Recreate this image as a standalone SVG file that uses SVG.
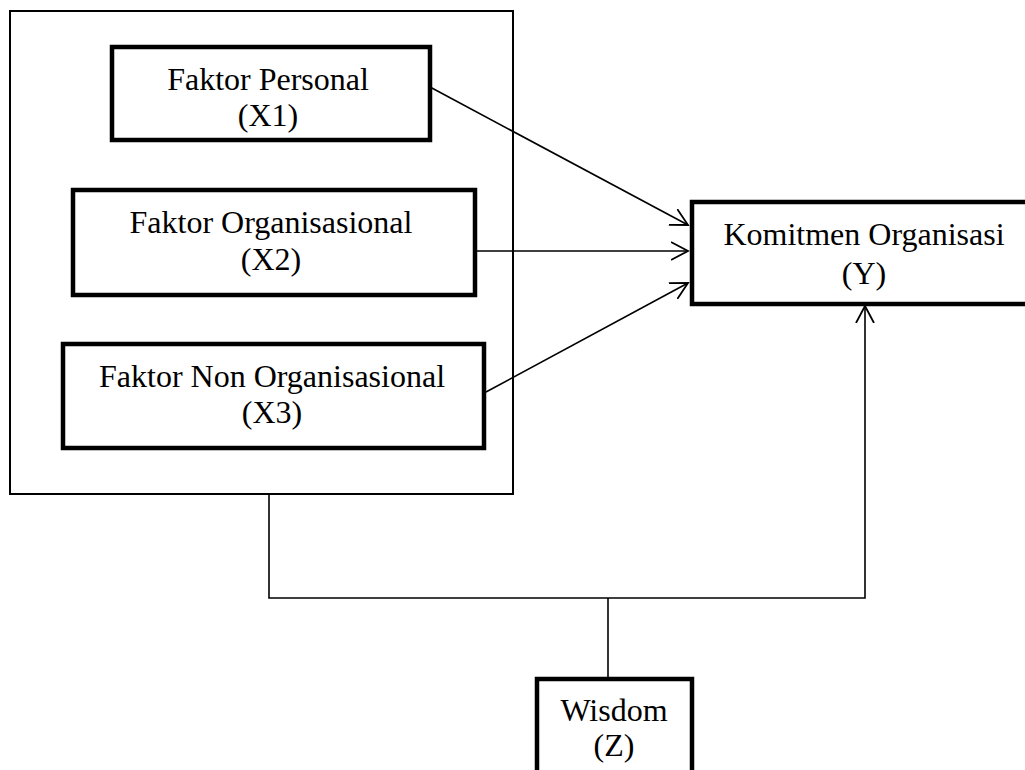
<svg xmlns="http://www.w3.org/2000/svg" width="1025" height="770" viewBox="0 0 1025 770">
<style>
.box{fill:#fff;stroke:#000;stroke-width:4.5}
.frame{fill:none;stroke:#000;stroke-width:2}
.ln{fill:none;stroke:#000;stroke-width:1.6}
text{font-family:"Liberation Serif","Times New Roman",serif;font-size:32px;fill:#000;text-anchor:middle}
</style>
<defs>
<marker id="ah" markerWidth="20" markerHeight="20" refX="17" refY="10" orient="auto" markerUnits="userSpaceOnUse">
<path d="M0,1 L17,10 L0,19" fill="none" stroke="#000" stroke-width="1.8"/>
</marker>
</defs>
<rect x="0" y="0" width="1025" height="770" fill="#fff"/>
<g id="frame"><rect class="frame" x="10" y="11" width="503" height="483"/></g>
<g id="connectors">
<line class="ln" x1="430" y1="87" x2="688" y2="225" marker-end="url(#ah)"/>
<line class="ln" x1="475" y1="251" x2="688" y2="251" marker-end="url(#ah)"/>
<line class="ln" x1="486" y1="392" x2="688" y2="283" marker-end="url(#ah)"/>
<polyline class="ln" points="269,494 269,598 865,598 865,306" marker-end="url(#ah)"/>
<line class="ln" x1="608" y1="598" x2="608" y2="678"/>
</g>
<g id="x1"><rect class="box" x="112" y="47" width="318" height="93"/><text x="268" y="90">Faktor Personal</text><text x="268" y="126">(X1)</text></g>
<g id="x2"><rect class="box" x="73" y="190" width="402" height="105"/><text x="271" y="233">Faktor Organisasional</text><text x="271" y="270">(X2)</text></g>
<g id="x3"><rect class="box" x="63" y="344" width="421" height="104"/><text x="272" y="387">Faktor Non Organisasional</text><text x="272" y="423">(X3)</text></g>
<g id="y"><rect class="box" x="692" y="202" width="345" height="102"/><text x="864" y="245">Komitmen Organisasi</text><text x="864" y="284">(Y)</text></g>
<g id="z"><rect class="box" x="537" y="679" width="155" height="110"/><text x="614" y="721">Wisdom</text><text x="614" y="756">(Z)</text></g>
</svg>
